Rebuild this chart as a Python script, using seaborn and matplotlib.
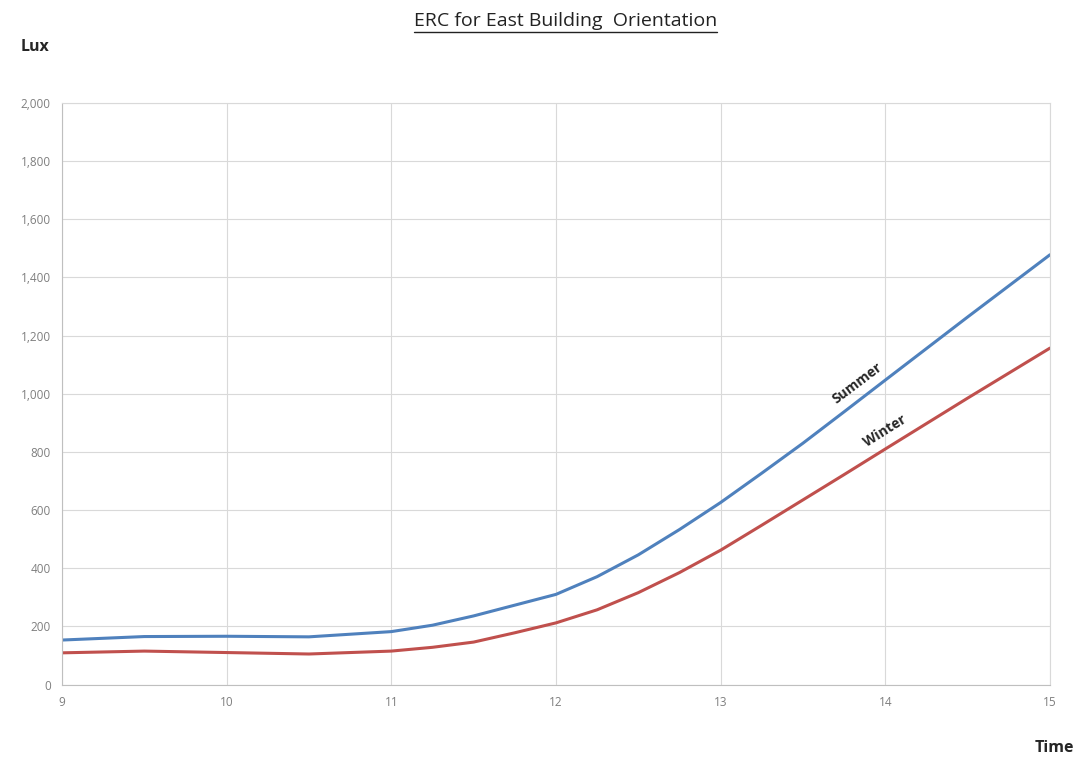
import numpy as np
import pandas as pd
import matplotlib
matplotlib.use("Agg")
import matplotlib.pyplot as plt
import seaborn as sns
from matplotlib.lines import Line2D
from matplotlib.ticker import FuncFormatter

# values
hours = [9, 9.5, 10, 10.5, 11, 11.25, 11.5, 11.75, 12, 12.25, 12.5, 12.75, 13, 13.25, 13.5, 13.75, 14, 14.5, 15]
summer = [153, 165, 166, 164, 182, 204, 236, 273, 310, 371, 446, 533, 626, 727, 830, 938, 1047, 1264, 1478]
winter = [109, 115, 110, 105, 115, 128, 146, 178, 212, 257, 316, 385, 462, 548, 635, 722, 810, 985, 1157]

x_ticks = [9, 10, 11, 12, 13, 14, 15]
y_ticks = [0, 200, 400, 600, 800, 1000, 1200, 1400, 1600, 1800, 2000]

df = pd.DataFrame({"Time": hours + hours,
                   "Lux": summer + winter,
                   "Season": ["Summer"] * len(hours) + ["Winter"] * len(hours)})

sns.set_style("whitegrid", {"grid.color": "#d9d9d9", "axes.edgecolor": "#bfbfbf"})
plt.rcParams['font.family'] = ['Open Sans', 'DejaVu Sans']

fig = plt.figure(figsize=(10.83, 7.6), dpi=100)
ax = fig.add_axes([0.0572, 0.0993, 0.9123, 0.7652])

sns.lineplot(data=df, x="Time", y="Lux", hue="Season",
             palette={"Summer": "#4f81bd", "Winter": "#c0504d"},
             linewidth=2.2, legend=False, ax=ax)

ax.set_xlim(9, 15)
ax.set_ylim(0, 2000)
ax.set_xticks(x_ticks)
ax.set_yticks(y_ticks)
ax.yaxis.set_major_formatter(FuncFormatter(lambda v, p: f"{int(v):,}"))
ax.tick_params(axis="both", labelsize=8.5, labelcolor="#7f7f7f", length=0, pad=8)
ax.set_xlabel("")
ax.set_ylabel("")
for s in ax.spines.values():
    s.set_color("#d9d9d9")
ax.spines["left"].set_color("#bfbfbf")
ax.spines["bottom"].set_color("#bfbfbf")

ax.text(13.83, 1035, "Summer", rotation=37, ha="center", va="center",
        rotation_mode="anchor", fontsize=10, fontweight="bold")
ax.text(14.0, 872, "Winter", rotation=32, ha="center", va="center",
        rotation_mode="anchor", fontsize=10, fontweight="bold")

title = fig.text(0.522, 0.972, "ERC for East Building  Orientation",
                 ha="center", va="center", fontsize=14, color="#222222")
fig.text(0.032, 0.938, "Lux", ha="center", va="center", fontsize=11.5, fontweight="bold")
fig.text(0.992, 0.016, "Time", ha="right", va="center", fontsize=11.5, fontweight="bold")

# underline the title
fig.canvas.draw()
bb = title.get_window_extent().transformed(fig.transFigure.inverted())
fig.lines.append(Line2D([bb.x0, bb.x1], [bb.y0 - 0.002, bb.y0 - 0.002],
                        transform=fig.transFigure, color="#222222", linewidth=1.0))

fig.savefig("out.png", dpi=100)
